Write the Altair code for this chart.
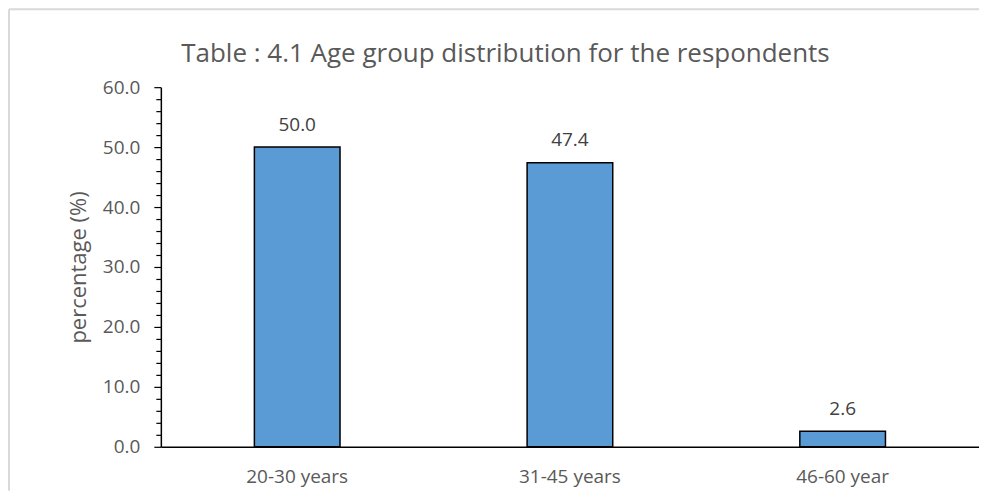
import altair as alt
import pandas as pd

categories = ["20-30 years", "31-45 years", "46-60 year"]
values = [50.0, 47.4, 2.6]
y_ticks = list(range(0, 61, 2))

df = pd.DataFrame({"group": categories, "pct": values})

FONT = "Open Sans"
GRAY = "#595959"

x_enc = alt.X(
    "group:N",
    sort=categories,
    title=None,
    scale=alt.Scale(paddingInner=0.686, paddingOuter=0.343),
    axis=alt.Axis(
        labelAngle=0, ticks=False, labelPadding=21, labelFontSize=19,
        labelFont=FONT, labelColor=GRAY, domainColor="#000000", domainWidth=1.5,
    ),
)
y_enc = alt.Y(
    "pct:Q",
    title="percentage (%)",
    scale=alt.Scale(domain=[0, 60], nice=False, zero=True),
    axis=alt.Axis(
        values=y_ticks,
        labelExpr="datum.value % 10 === 0 ? format(datum.value, '.1f') : ''",
        labelOverlap=False,
        tickSize={"condition": {"test": "datum.value % 10 === 0", "value": 7}, "value": 5},
        tickColor="#000000", tickWidth=1.2,
        domainColor="#000000", domainWidth=1.5,
        labelFontSize=19, labelFont=FONT, labelColor=GRAY, labelPadding=14,
        titleFontSize=22, titleFont=FONT, titleColor=GRAY, titleFontWeight="normal",
        titlePadding=12, grid=False,
    ),
)

base = alt.Chart(df)

bars = base.mark_bar(color="#5B9BD5", stroke="#000000", strokeWidth=1.5).encode(x=x_enc, y=y_enc)

labels = base.mark_text(
    font=FONT, fontSize=19, color="#404040", baseline="alphabetic", dy=-16.5
).encode(x=x_enc, y=y_enc, text=alt.Text("pct:Q", format=".1f"))

border_df = pd.DataFrame({"k": [0]})
border_top = alt.Chart(border_df).mark_rule(color="#D9D9D9", strokeWidth=2).encode(
    x=alt.value(-152), x2=alt.value(819), y=alt.value(-78)
)
border_left = alt.Chart(border_df).mark_rule(color="#D9D9D9", strokeWidth=2).encode(
    x=alt.value(-152), y=alt.value(-78), y2=alt.value(404)
)

chart = alt.layer(bars, labels, border_top, border_left).properties(
    width=819,
    height=360,
    background="white",
    title=alt.Title(
        "Table : 4.1 Age group distribution for the respondents",
        font=FONT, fontSize=26, color=GRAY, fontWeight="normal",
        anchor="middle", frame="group", dx=-64.5, offset=0, dy=79.7,
        baseline="alphabetic",
    ),
    autosize=alt.AutoSizeParams(type="none"),
    padding={"left": 153, "top": 79, "right": 0, "bottom": 44},
).configure_view(stroke="transparent", strokeWidth=0)

chart.save("out.html", embed_options={"renderer": "svg", "actions": False})
